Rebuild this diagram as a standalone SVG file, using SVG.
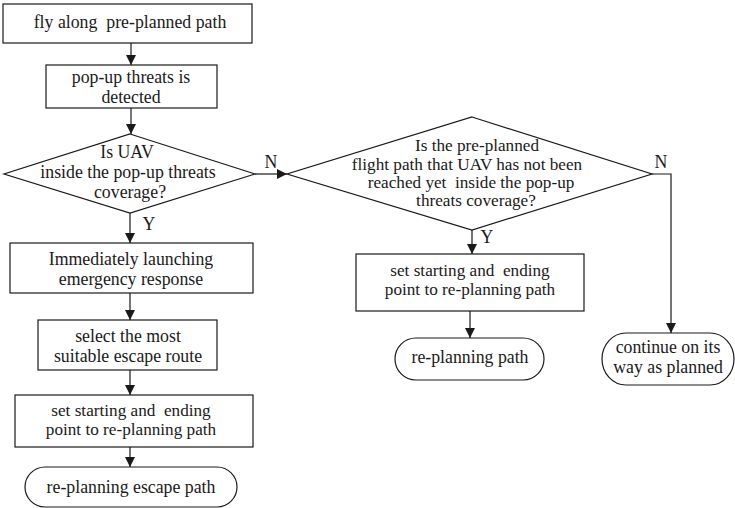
<svg xmlns="http://www.w3.org/2000/svg" width="735" height="508" viewBox="0 0 735 508">
<style>
.s{fill:#fff;stroke:#1a1a1a;stroke-width:1.2}
.t{font-family:"Liberation Serif","Times New Roman",serif;font-size:17.8px;fill:#1a1a1a;text-anchor:middle;white-space:pre}
.k{font-size:17.2px}
.c{fill:none;stroke:#1a1a1a;stroke-width:1.2}
</style>
<defs>
<marker id="ah" markerUnits="userSpaceOnUse" markerWidth="10" markerHeight="10" refX="10" refY="5" orient="auto">
<path d="M0,0 L10,5 L0,10 z" fill="#1a1a1a"/>
</marker>
</defs>
<rect width="735" height="508" fill="#fff"/>
<g id="connectors">
<path class="c" d="M131,43 V65" marker-end="url(#ah)"/>
<path class="c" d="M131,108 V134" marker-end="url(#ah)"/>
<path class="c" d="M130,213 V243" marker-end="url(#ah)"/>
<path class="c" d="M130,293 V320" marker-end="url(#ah)"/>
<path class="c" d="M130,370 V395" marker-end="url(#ah)"/>
<path class="c" d="M130,447 V467" marker-end="url(#ah)"/>
<path class="c" d="M255,174 H287" marker-end="url(#ah)"/>
<path class="c" d="M472,230 V254" marker-end="url(#ah)"/>
<path class="c" d="M470,311 V338" marker-end="url(#ah)"/>
<path class="c" d="M652,174 H671 V333" marker-end="url(#ah)"/>
<text class="t" x="149" y="230">Y</text>
<text class="t" x="487" y="243">Y</text>
<text class="t" x="271" y="168">N</text>
<text class="t" x="661" y="168">N</text>
</g>
<g id="n1">
<rect class="s" x="3" y="4" width="249" height="39"/>
<text class="t" x="130" y="28">fly along  pre-planned path</text>
</g>
<g id="n2">
<rect class="s" x="46" y="65" width="171" height="43"/>
<text class="t" x="131" y="83">pop-up threats is</text>
<text class="t" x="131" y="103">detected</text>
</g>
<g id="d1">
<polygon class="s" points="130,134 255,174 130,213 4,174"/>
<text class="t" x="127" y="158">Is UAV</text>
<text class="t" x="128" y="178">inside the pop-up threats</text>
<text class="t" x="130" y="198">coverage?</text>
</g>
<g id="n3">
<rect class="s" x="10" y="243" width="243" height="50"/>
<text class="t" x="131" y="265">Immediately launching</text>
<text class="t" x="131" y="285">emergency response</text>
</g>
<g id="n4">
<rect class="s" x="38" y="320" width="179" height="50"/>
<text class="t" x="128" y="342">select the most</text>
<text class="t" x="128" y="362">suitable escape route</text>
</g>
<g id="n5">
<rect class="s" x="15" y="395" width="238" height="52"/>
<text class="t k" x="131" y="416">set starting and  ending</text>
<text class="t k" x="131" y="435">point to re-planning path</text>
</g>
<g id="n6">
<rect class="s" x="25" y="467" width="212" height="40" rx="20" ry="20"/>
<text class="t" x="131" y="493">re-planning escape path</text>
</g>
<g id="d2">
<polygon class="s" points="472,117 652,174 472,230 287,174"/>
<text class="t k" x="477" y="151">Is the pre-planned</text>
<text class="t k" x="467" y="170">flight path that UAV has not been</text>
<text class="t k" x="471" y="188">reached yet  inside the pop-up</text>
<text class="t k" x="476" y="206">threats coverage?</text>
</g>
<g id="n7">
<rect class="s" x="356" y="254" width="228" height="57"/>
<text class="t k" x="470" y="276">set starting and  ending</text>
<text class="t k" x="470" y="295">point to re-planning path</text>
</g>
<g id="n8">
<rect class="s" x="395" y="338" width="149" height="42" rx="21" ry="21"/>
<text class="t" x="470" y="363">re-planning path</text>
</g>
<g id="n9">
<rect class="s" x="602" y="333" width="132" height="52" rx="24" ry="26"/>
<text class="t" x="668" y="353">continue on its</text>
<text class="t" x="668" y="373">way as planned</text>
</g>
</svg>
